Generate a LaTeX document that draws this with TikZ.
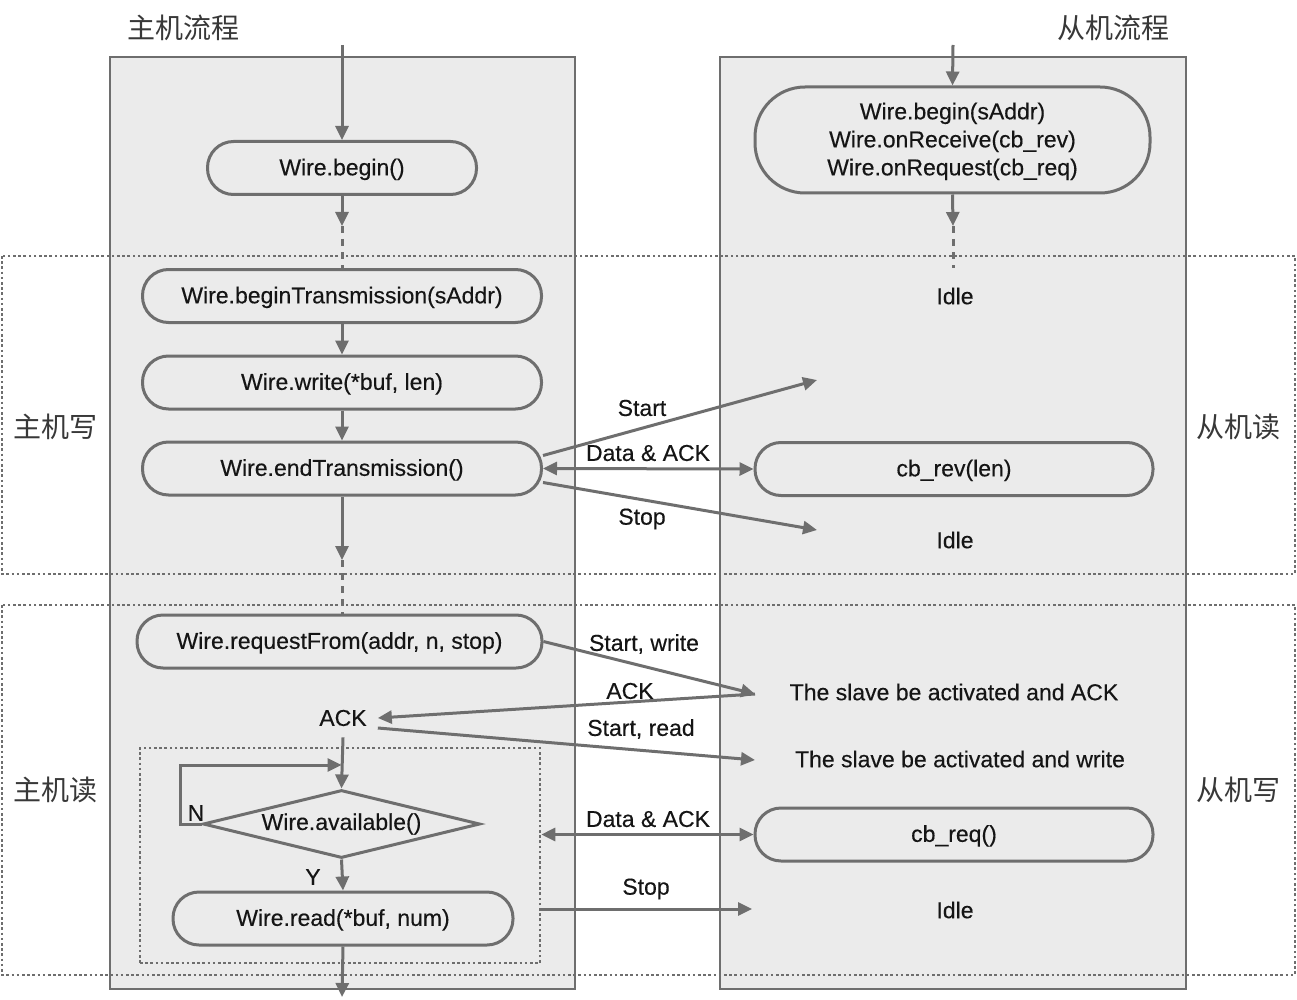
\documentclass[tikz,border=0pt]{standalone}
\usepackage{fontspec}
\setmainfont{Liberation Sans}[FakeBold=0.35]
\newfontfamily\cjk{Noto Sans CJK SC}
\usetikzlibrary{arrows.meta,shapes.geometric}
\definecolor{ioline}{HTML}{6E6E6E}
\definecolor{iofill}{HTML}{EBEBEB}
\definecolor{iotext}{HTML}{151515}
\begin{document}
\begin{tikzpicture}[x=1pt, y=-1pt]
\tikzset{every node/.style={text=iotext, font=\fontsize{23}{28}\selectfont}}
\tikzset{ioproc/.style={shape=rectangle, rounded corners=26pt, draw=ioline, line width=3pt, minimum height=53pt, inner sep=0pt, text depth=2pt}}
\tikzset{iodec/.style={shape=diamond, aspect=4, draw=ioline, line width=3pt, minimum width=277pt, minimum height=68pt, inner sep=0pt}}
\tikzset{iotitle/.style={font=\cjk\fontsize{28}{30}\selectfont, text=iotext!85}}
\tikzset{ioedge/.style={draw=ioline, line width=3pt, -{Triangle[length=14pt, width=13pt]}}}
\tikzset{iobi/.style={ioedge, {Triangle[length=14pt, width=13pt]}-{Triangle[length=14pt, width=13pt]}}}
\tikzset{iodash/.style={draw=ioline, line width=3pt, dash pattern=on 7pt off 6pt}}
\tikzset{iodot/.style={draw=ioline, line width=2.6pt, dash pattern=on 2.6pt off 2.6pt}}
\useasboundingbox (0,0) rectangle (1297,1000);
% lanes and phases
\filldraw[fill=iofill, draw=ioline, line width=1.6pt] (110,57) rectangle (575,989);
\filldraw[fill=iofill, draw=ioline, line width=1.6pt] (720,57) rectangle (1186,989);
\draw[iodot] (2,256) rectangle (1295,574);
\draw[iodot] (2,605) rectangle (1295,975);
\node (rdBox) [iodot, minimum width=400pt, minimum height=215pt, inner sep=0pt] at (340,855.5) {};
% titles
\node (mTitle) [iotitle] at (183,28) {主机流程};
\node (sTitle) [iotitle] at (1113,28) {从机流程};
\node (mWr) [iotitle] at (55,427) {主机写};
\node (sRd) [iotitle] at (1238,427) {从机读};
\node (mRd) [iotitle] at (55,790) {主机读};
\node (sWr) [iotitle] at (1238,790) {从机写};
% master steps
\node (mBegin) [ioproc, minimum width=269pt] at (342,168) {Wire.begin()};
\node (mBT)    [ioproc, minimum width=399pt] at (342,296) {Wire.beginTransmission(sAddr)};
\node (mWrite) [ioproc, minimum width=399pt] at (342,382.5) {Wire.write(*buf, len)};
\node (mEnd)   [ioproc, minimum width=399pt] at (342,468.5) {Wire.endTransmission()};
\node (mReq)   [ioproc, minimum width=405pt] at (339.5,641.5) {Wire.requestFrom(addr, n, stop)};
\node (mAck)   [inner sep=11pt]              at (343,718) {ACK};
\node (mAvail) [iodec]                       at (341.5,824) {Wire.available()};
\node (mRead)  [ioproc, minimum width=340pt] at (343,918.5) {Wire.read(*buf, num)};
\node (mN) at (196,813) {N};
\node (mY) at (313,877) {Y};
% slave steps
\node (sBegin) [ioproc, rounded corners=50pt, minimum width=395pt, minimum height=106pt, align=center] at (952.5,140)
  {Wire.begin(sAddr)\\Wire.onReceive(cb\_rev)\\Wire.onRequest(cb\_req)};
\node (sIdleA) at (955,296) {Idle};
\node (sRev)   [ioproc, minimum width=398pt] at (954,469) {cb\_rev(len)};
\node (sIdleB) at (955,540) {Idle};
\node (sActd)  at (954,692) {The slave be activated and ACK};
\node (sWrtd)  at (960,759) {The slave be activated and write};
\node (sReq)   [ioproc, minimum width=398pt] at (954,834.5) {cb\_req()};
\node (sIdleC) at (955,910) {Idle};
% bus labels
\node (lStartA) at (642,408) {Start};
\node (lDataA)  at (648,453) {Data \& ACK};
\node (lStopA)  at (642,519) {Stop};
\node (lStartW) at (644,644) {Start, write};
\node (lAck)    at (630,691) {ACK};
\node (lStartR) at (641,729) {Start, read};
\node (lDataB)  at (648,819) {Data \& ACK};
\node (lStopB)  at (646,889) {Stop};
% free ends
\coordinate (mIn)   at (342,45);
\coordinate (mGapA) at (342,226);
\coordinate (mGapB) at (342,560);
\coordinate (mLoop) at (180,765);
\coordinate (mOut)  at (342,997);
\coordinate (sIn)   at (953,45);
\coordinate (sGapA) at (953,226);
\coordinate (sGapE) at (953,268);
\coordinate (sStart) at (817,380);
\coordinate (sStop)  at (817,530);
\coordinate (sAct)   at (755,694);
\coordinate (sWrt)   at (755,760);
\coordinate (sStopB) at (752,909);
% master flow
\draw[ioedge] (mIn) -- (mBegin.north);
\draw[ioedge] (mBegin.south) -- (mGapA);
\draw[iodash] (mGapA) -- (mGapA |- mBT.north);
\draw[ioedge] (mBT.south) -- (mWrite.north);
\draw[ioedge] (mWrite.south) -- (mEnd.north);
\draw[ioedge] (mEnd.south) -- (mGapB);
\draw[iodash] (mGapB) -- (mGapB |- mReq.north);
\draw[ioedge] (mAck.south) -- (mAvail.north);
\draw[ioedge] (mAvail.west) -| (mLoop) -- (mLoop -| mAvail.north);
\draw[ioedge] (mAvail.south) -- (mRead.north);
\draw[ioedge] (mRead.south) -- (mOut);
% slave flow
\draw[ioedge] (sIn) -- (sBegin.north);
\draw[ioedge] (sBegin.south) -- (sGapA);
\draw[iodash] (sGapA) -- (sGapE);
% bus traffic
\draw[ioedge] ([yshift=13pt]mEnd.east) -- (sStart);
\draw[iobi]   (mEnd.east) -- (sRev.west);
\draw[ioedge] ([yshift=-14pt]mEnd.east) -- (sStop);
\draw[ioedge] (mReq.east) -- (sAct);
\draw[ioedge] (sAct) -- (mAck.east);
\draw[ioedge] ([yshift=-10pt]mAck.east) -- (sWrt);
\draw[iobi]   (rdBox.east |- sReq.west) -- (sReq.west);
\draw[ioedge] (rdBox.east |- sStopB) -- (sStopB);
\end{tikzpicture}
\end{document}
